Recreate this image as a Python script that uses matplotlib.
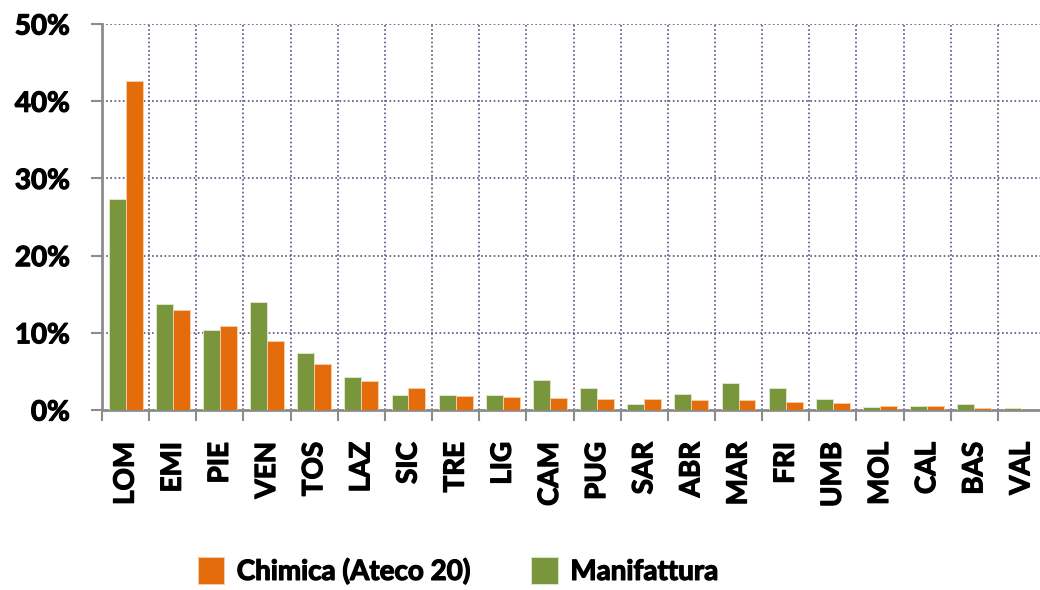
import matplotlib
matplotlib.use('Agg')
import matplotlib.pyplot as plt
import matplotlib.patheffects as pe
import numpy as np
from matplotlib.ticker import FixedLocator, PercentFormatter

# dati (quote % per regione)
regioni = ['LOM', 'EMI', 'PIE', 'VEN', 'TOS', 'LAZ', 'SIC', 'TRE', 'LIG', 'CAM',
           'PUG', 'SAR', 'ABR', 'MAR', 'FRI', 'UMB', 'MOL', 'CAL', 'BAS', 'VAL']
manifattura = [27.3, 13.7, 10.3, 14.0, 7.4, 4.3, 1.9, 2.0, 1.95, 3.9,
               2.8, 0.75, 2.1, 3.5, 2.85, 1.4, 0.35, 0.55, 0.75, 0.25]
chimica = [42.6, 12.9, 10.85, 9.0, 6.0, 3.8, 2.85, 1.85, 1.7, 1.6,
           1.45, 1.45, 1.3, 1.3, 1.05, 0.9, 0.55, 0.5, 0.2, 0.03]

verde = '#7A963C'
arancio = '#E46C0A'
griglia = '#5E4E80'
asse = '#8C8C8C'

plt.rcParams['font.family'] = ['Lato', 'DejaVu Sans']
plt.rcParams['font.weight'] = 'bold'

fig = plt.figure(figsize=(10.4, 5.9), dpi=100)
ax = fig.add_axes([102 / 1040, 1 - 410 / 590, 943 / 1040, 386 / 590])

x = np.arange(len(regioni))
w = 0.36
ax.bar(x - w / 2, manifattura, w, color=verde, edgecolor='#DDE6CC', linewidth=0.7,
       label='Manifattura', zorder=3)
ax.bar(x + w / 2, chimica, w, color=arancio, edgecolor='#F6CBA8', linewidth=0.7,
       label='Chimica (Ateco 20)', zorder=3)

ax.set_xlim(-0.5, len(regioni) - 0.5)
ax.set_ylim(0, 50)
ax.set_yticks(np.arange(0, 51, 10))
ax.yaxis.set_major_formatter(PercentFormatter(decimals=0))

ax.set_xticks(x)
ax.set_xticklabels(regioni, rotation=90)
ax.xaxis.set_minor_locator(FixedLocator(np.arange(-0.5, len(regioni), 1)))

ax.tick_params(axis='x', which='major', length=0, pad=23, labelsize=20)
ax.tick_params(axis='x', which='minor', length=8, width=1.5, color=asse, direction='out')
ax.tick_params(axis='y', length=8, width=1.5, color=asse, pad=15, labelsize=20)

# griglia tratteggiata
ax.grid(axis='y', which='major', color=griglia, linestyle=(0, (1, 1.5)), linewidth=1.2, zorder=0)
ax.grid(axis='x', which='minor', color=griglia, linestyle=(0, (1, 1.5)), linewidth=1.2, zorder=0)
ax.grid(axis='x', which='major', visible=False)

for s in ['top', 'right']:
    ax.spines[s].set_visible(False)
for s in ['left', 'bottom']:
    ax.spines[s].set_color(asse)
    ax.spines[s].set_linewidth(2)
    ax.spines[s].set_zorder(2)

# testo un po' piu' marcato (stile Calibri grassetto)
spesso = [pe.withStroke(linewidth=0.9, foreground='black')]
for t in ax.get_xticklabels() + ax.get_yticklabels():
    t.set_path_effects(spesso)

h, l = ax.get_legend_handles_labels()
leg = fig.legend(h[::-1], l[::-1], loc='center', bbox_to_anchor=(458 / 1040, 1 - 571 / 590),
                 ncol=2, frameon=False, fontsize=20, handlelength=0.95, handleheight=1.1,
                 handletextpad=0.45, columnspacing=2.2)
for t in leg.get_texts():
    t.set_path_effects(spesso)

fig.savefig('out.png', dpi=100)
